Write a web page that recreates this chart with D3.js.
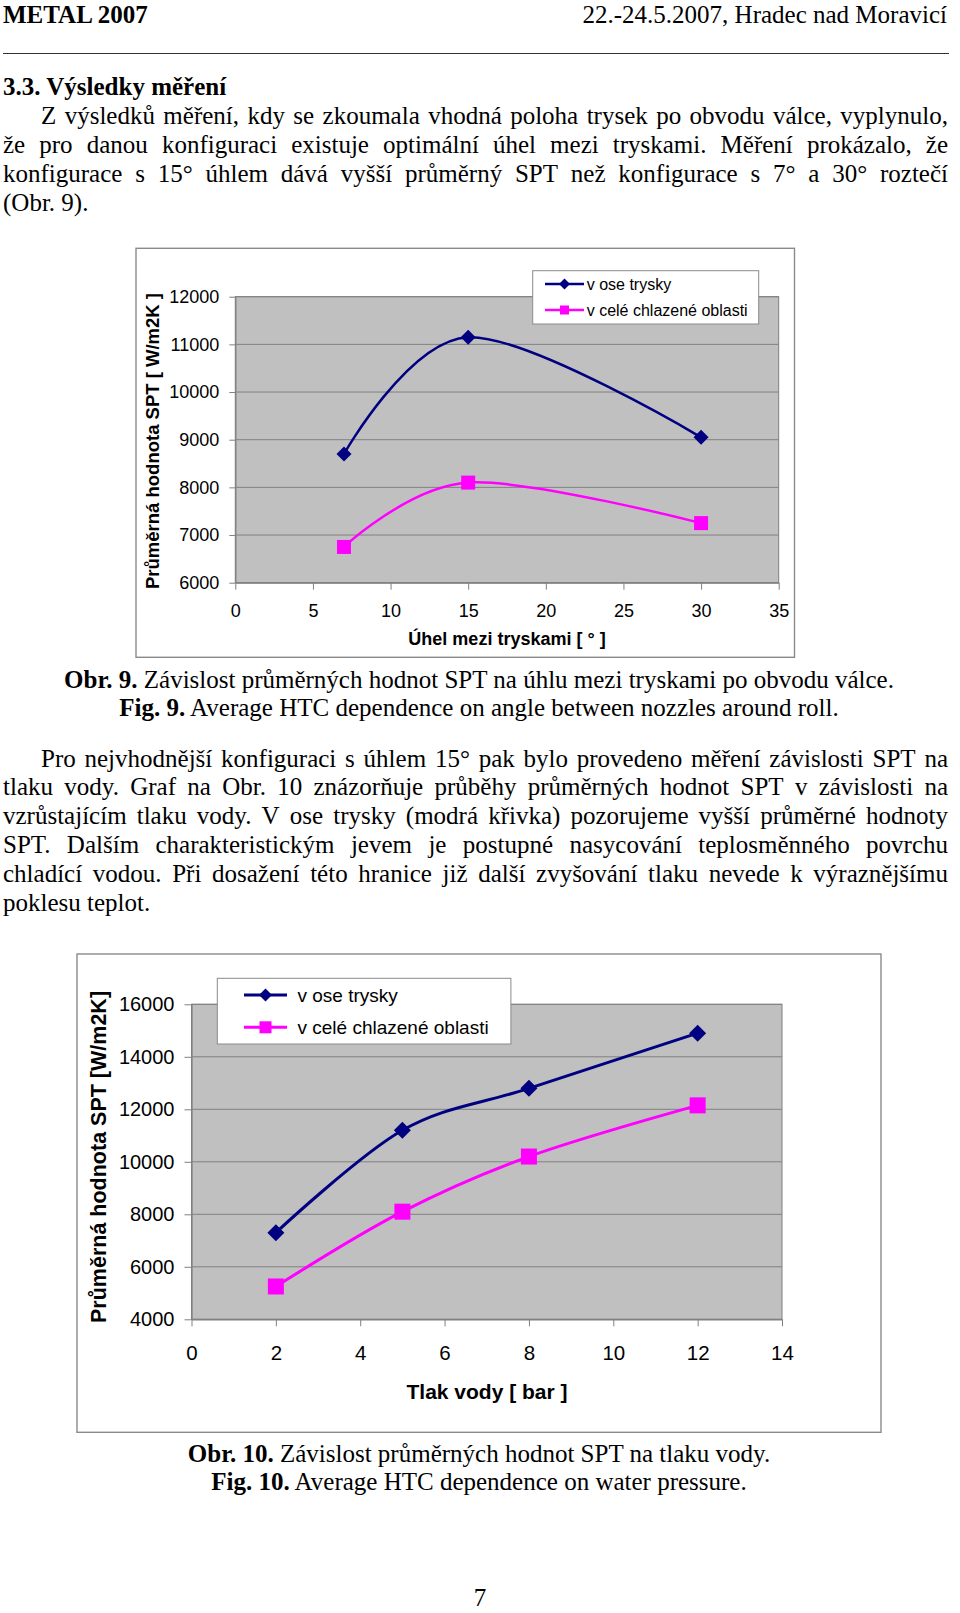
<!DOCTYPE html>
<html>
<head>
<meta charset="utf-8">
<script src="https://cdn.jsdelivr.net/npm/d3@7"></script>
<style>
  body { margin: 0; background: #fff; }
  svg { display: block; }
</style>
</head>
<body>
<svg id="page" width="960" height="1613"></svg>
<script>
// ---------------- DATA ----------------
// Obr. 9 : angle between nozzles
const angleValues = [7, 15, 30];
const angleAxisSPT = [8700, 11150, 9050];      // v ose trysky
const angleAreaSPT = [6750, 8100, 7250];       // v celé chlazené oblasti
const angleXTicks = [0, 5, 10, 15, 20, 25, 30, 35];
const angleYTicks = [6000, 7000, 8000, 9000, 10000, 11000, 12000];

// Obr. 10 : water pressure
const pressureValues = [2, 5, 8, 12];
const pressureAxisSPT = [7300, 11200, 12800, 14900];
const pressureAreaSPT = [5250, 8100, 10200, 12150];
const pressureXTicks = [0, 2, 4, 6, 8, 10, 12, 14];
const pressureYTicks = [4000, 6000, 8000, 10000, 12000, 14000, 16000];

const seriesNames = ["v ose trysky", "v celé chlazené oblasti"];

// ---------------- TEXT ----------------
const headerLeft = "METAL 2007";
const headerRight = "22.-24.5.2007, Hradec nad Moravicí";
const sectionTitle = "3.3. Výsledky měření";
const para1 = [
  "Z výsledků měření, kdy se zkoumala vhodná poloha trysek po obvodu válce, vyplynulo,",
  "že pro danou konfiguraci existuje optimální úhel mezi tryskami. Měření prokázalo, že",
  "konfigurace s 15° úhlem dává vyšší průměrný SPT než konfigurace s 7° a 30° roztečí",
  "(Obr. 9)."
];
const para2 = [
  "Pro nejvhodnější konfiguraci s úhlem 15° pak bylo provedeno měření závislosti SPT na",
  "tlaku vody. Graf na Obr. 10 znázorňuje průběhy průměrných hodnot SPT v závislosti na",
  "vzrůstajícím tlaku vody. V ose trysky (modrá křivka) pozorujeme vyšší průměrné hodnoty",
  "SPT. Dalším charakteristickým jevem je postupné nasycování teplosměnného povrchu",
  "chladící vodou. Při dosažení této hranice již další zvyšování tlaku nevede k výraznějšímu",
  "poklesu teplot."
];
const caption9 = [["Obr. 9.", " Závislost průměrných hodnot SPT na úhlu mezi tryskami po obvodu válce."],
                  ["Fig. 9.", " Average HTC dependence on angle between nozzles around roll."]];
const caption10 = [["Obr. 10.", " Závislost průměrných hodnot SPT na tlaku vody."],
                   ["Fig. 10.", " Average HTC dependence on water pressure."]];
const pageNumber = "7";

// ---------------- SETUP ----------------
const svg = d3.select("#page");
const serif = "'Liberation Serif','Times New Roman',serif";
const sans = "'Liberation Sans',Arial,sans-serif";
const bodySize = 25;

svg.append("rect").attr("width", 960).attr("height", 1613).attr("fill", "#fff");

const meas = svg.append("text").attr("font-family", serif).attr("font-size", bodySize)
  .attr("x", -1000).attr("y", -1000);
function measure(s) { meas.text(s); return meas.node().getComputedTextLength(); }

function textLine(str, x0, x1, y, justify) {
  const words = str.split(" ");
  const widths = words.map(measure);
  const total = d3.sum(widths);
  const gap = (justify && words.length > 1) ? (x1 - x0 - total) / (words.length - 1) : bodySize * 0.25;
  const t = svg.append("text").attr("y", y).attr("font-family", serif)
    .attr("font-size", bodySize).attr("fill", "#000");
  let x = x0;
  words.forEach((w, i) => { t.append("tspan").attr("x", x).text(w); x += widths[i] + gap; });
}

function paragraph(lines, yStart, step) {
  lines.forEach((l, i) => {
    const last = i === lines.length - 1;
    textLine(l, i === 0 ? 41 : 3, 948, yStart + i * step, !last);
  });
}

// header
svg.append("text").attr("x", 3).attr("y", 22.5).attr("font-family", serif)
  .attr("font-size", bodySize).attr("font-weight", "bold").text(headerLeft);
svg.append("text").attr("x", 947).attr("y", 22.5).attr("font-family", serif)
  .attr("font-size", bodySize).attr("text-anchor", "end").text(headerRight);
svg.append("line").attr("x1", 3).attr("x2", 949).attr("y1", 53.5).attr("y2", 53.5)
  .attr("stroke", "#333").attr("stroke-width", 1.2);

svg.append("text").attr("x", 3).attr("y", 95).attr("font-family", serif)
  .attr("font-size", bodySize).attr("font-weight", "bold").text(sectionTitle);
paragraph(para1, 124, 29);
paragraph(para2, 766.5, 28.8);

function caption(lines, y0) {
  lines.forEach((c, i) => {
    const t = svg.append("text").attr("x", 479).attr("y", y0 + i * 28.5)
      .attr("text-anchor", "middle").attr("font-family", serif).attr("font-size", bodySize);
    t.append("tspan").attr("font-weight", "bold").text(c[0]);
    t.append("tspan").text(c[1]);
  });
}
caption(caption9, 687.5);
caption(caption10, 1461.5);

svg.append("text").attr("x", 480).attr("y", 1606).attr("text-anchor", "middle")
  .attr("font-family", serif).attr("font-size", bodySize).text(pageNumber);

// ---------------- CHARTS ----------------
const navy = "#000080", magenta = "#ff00ff", grid = "#808080";

function diamondPath(r) { return `M0,${-r}L${r},0L0,${r}L${-r},0Z`; }

function drawChart(c) {
  const g = svg.append("g");
  g.append("rect").attr("x", c.box[0]).attr("y", c.box[1]).attr("width", c.box[2]).attr("height", c.box[3])
    .attr("fill", "#fff").attr("stroke", "#8a8a8a").attr("stroke-width", 1.4);

  const [px, py, pw, ph] = c.plot;
  const x = d3.scaleLinear().domain(c.xDomain).range([px, px + pw]);
  const y = d3.scaleLinear().domain(c.yDomain).range([py + ph, py]);

  g.append("rect").attr("x", px).attr("y", py).attr("width", pw).attr("height", ph)
    .attr("fill", "#c0c0c0").attr("stroke", grid).attr("stroke-width", 1);

  g.selectAll("line.grid").data(c.yTicks).join("line").attr("class", "grid")
    .attr("x1", px).attr("x2", px + pw).attr("y1", d => y(d)).attr("y2", d => y(d))
    .attr("stroke", grid).attr("stroke-width", 1);

  const yAxis = g.append("g").attr("transform", `translate(${px},0)`)
    .call(d3.axisLeft(y).tickValues(c.yTicks).tickFormat(d3.format("d"))
      .tickSize(c.yTickSize).tickSizeOuter(0).tickPadding(c.yPad));
  yAxis.selectAll("text").attr("font-family", sans).attr("font-size", c.yFont).attr("fill", "#000");

  const xAxis = g.append("g").attr("transform", `translate(0,${py + ph})`)
    .call(d3.axisBottom(x).tickValues(c.xTicks).tickFormat(d3.format("d"))
      .tickSize(c.xTickSize).tickSizeOuter(0).tickPadding(c.xPad));
  xAxis.selectAll("text").attr("font-family", sans).attr("font-size", c.xFont).attr("fill", "#000");
  [yAxis, xAxis].forEach(a => {
    a.attr("font-size", null).attr("font-family", null);
    a.select(".domain").attr("stroke", grid).attr("stroke-width", 1.3);
    a.selectAll(".tick line").attr("stroke", grid).attr("stroke-width", 1);
  });

  // titles
  g.append("text").attr("x", c.xTitle[0]).attr("y", c.xTitle[1]).attr("text-anchor", "middle")
    .attr("font-family", sans).attr("font-weight", "bold").attr("font-size", c.xTitleFont).text(c.xTitleText);
  g.append("text").attr("transform", `translate(${c.yTitle[0]},${c.yTitle[1]}) rotate(-90)`)
    .attr("text-anchor", "middle").attr("dy", "0.35em")
    .attr("font-family", sans).attr("font-weight", "bold").attr("font-size", c.yTitleFont).text(c.yTitleText);

  // series
  const line = d3.line().x(d => x(d[0])).y(d => y(d[1])).curve(d3.curveCardinal.tension(0));
  const s1 = c.xs.map((v, i) => [v, c.s1[i]]);
  const s2 = c.xs.map((v, i) => [v, c.s2[i]]);
  g.append("path").datum(s1).attr("d", line).attr("fill", "none").attr("stroke", navy)
    .attr("stroke-width", c.lw);
  g.append("path").datum(s2).attr("d", line).attr("fill", "none").attr("stroke", magenta)
    .attr("stroke-width", c.lw);
  g.selectAll("path.dia").data(s1).join("path").attr("class", "dia")
    .attr("transform", d => `translate(${x(d[0])},${y(d[1])})`)
    .attr("d", diamondPath(c.dia)).attr("fill", navy);
  g.selectAll("rect.sq").data(s2).join("rect").attr("class", "sq")
    .attr("x", d => x(d[0]) - c.sq / 2).attr("y", d => y(d[1]) - c.sq / 2)
    .attr("width", c.sq).attr("height", c.sq).attr("fill", magenta);

  // legend
  const [lx, ly, lw, lh] = c.legendBox;
  g.append("rect").attr("x", lx).attr("y", ly).attr("width", lw).attr("height", lh)
    .attr("fill", "#fff").attr("stroke", "#8a8a8a").attr("stroke-width", 1);
  const cols = [navy, magenta];
  seriesNames.forEach((name, i) => {
    const yy = c.legendY[i];
    const mx = (c.legendLine[0] + c.legendLine[1]) / 2;
    g.append("line").attr("x1", c.legendLine[0]).attr("x2", c.legendLine[1])
      .attr("y1", yy).attr("y2", yy).attr("stroke", cols[i]).attr("stroke-width", c.lw);
    if (i === 0) {
      g.append("path").attr("transform", `translate(${mx},${yy})`).attr("d", diamondPath(c.ldia)).attr("fill", navy);
    } else {
      g.append("rect").attr("x", mx - c.lsq / 2).attr("y", yy - c.lsq / 2)
        .attr("width", c.lsq).attr("height", c.lsq).attr("fill", magenta);
    }
    g.append("text").attr("x", c.legendText).attr("y", yy).attr("dy", "0.35em")
      .attr("font-family", sans).attr("font-size", c.legendFont).text(name);
  });
}

drawChart({
  box: [136, 248.3, 658.5, 409],
  plot: [235.3, 296.7, 543.4, 286],
  xDomain: [0, 35], yDomain: [6000, 12000],
  xTicks: angleXTicks, yTicks: angleYTicks,
  yFont: 18, xFont: 18, yTickSize: 6, yPad: 10, xTickSize: 7, xPad: 15,
  xTitle: [507, 645], xTitleFont: 18, xTitleText: "Úhel mezi tryskami [ ° ]",
  yTitle: [152.5, 441], yTitleFont: 18.5, yTitleText: "Průměrná hodnota SPT [ W/m2K ]",
  xs: angleValues, s1: angleAxisSPT, s2: angleAreaSPT,
  lw: 2.5, dia: 7.5, sq: 14,
  legendBox: [532.7, 270.7, 226, 53.3], legendY: [284, 310], legendLine: [545, 584],
  legendText: 586.7, legendFont: 16, ldia: 5.5, lsq: 9
});

drawChart({
  box: [77, 954, 804, 478.3],
  plot: [191.5, 1004.3, 590.5, 315],
  xDomain: [0, 14], yDomain: [4000, 16000],
  xTicks: pressureXTicks, yTicks: pressureYTicks,
  yFont: 20, xFont: 20.5, yTickSize: 7, yPad: 10, xTickSize: 7, xPad: 19.5,
  xTitle: [487, 1399], xTitleFont: 21, xTitleText: "Tlak vody [ bar ]",
  yTitle: [98, 1157], yTitleFont: 21.5, yTitleText: "Průměrná hodnota SPT [W/m2K]",
  xs: pressureValues, s1: pressureAxisSPT, s2: pressureAreaSPT,
  lw: 3, dia: 8.5, sq: 16,
  legendBox: [217.3, 978.3, 293.6, 65.7], legendY: [995, 1027.3], legendLine: [244, 287],
  legendText: 297.5, legendFont: 19, ldia: 6.5, lsq: 12
});

meas.remove();
</script>
</body>
</html>
